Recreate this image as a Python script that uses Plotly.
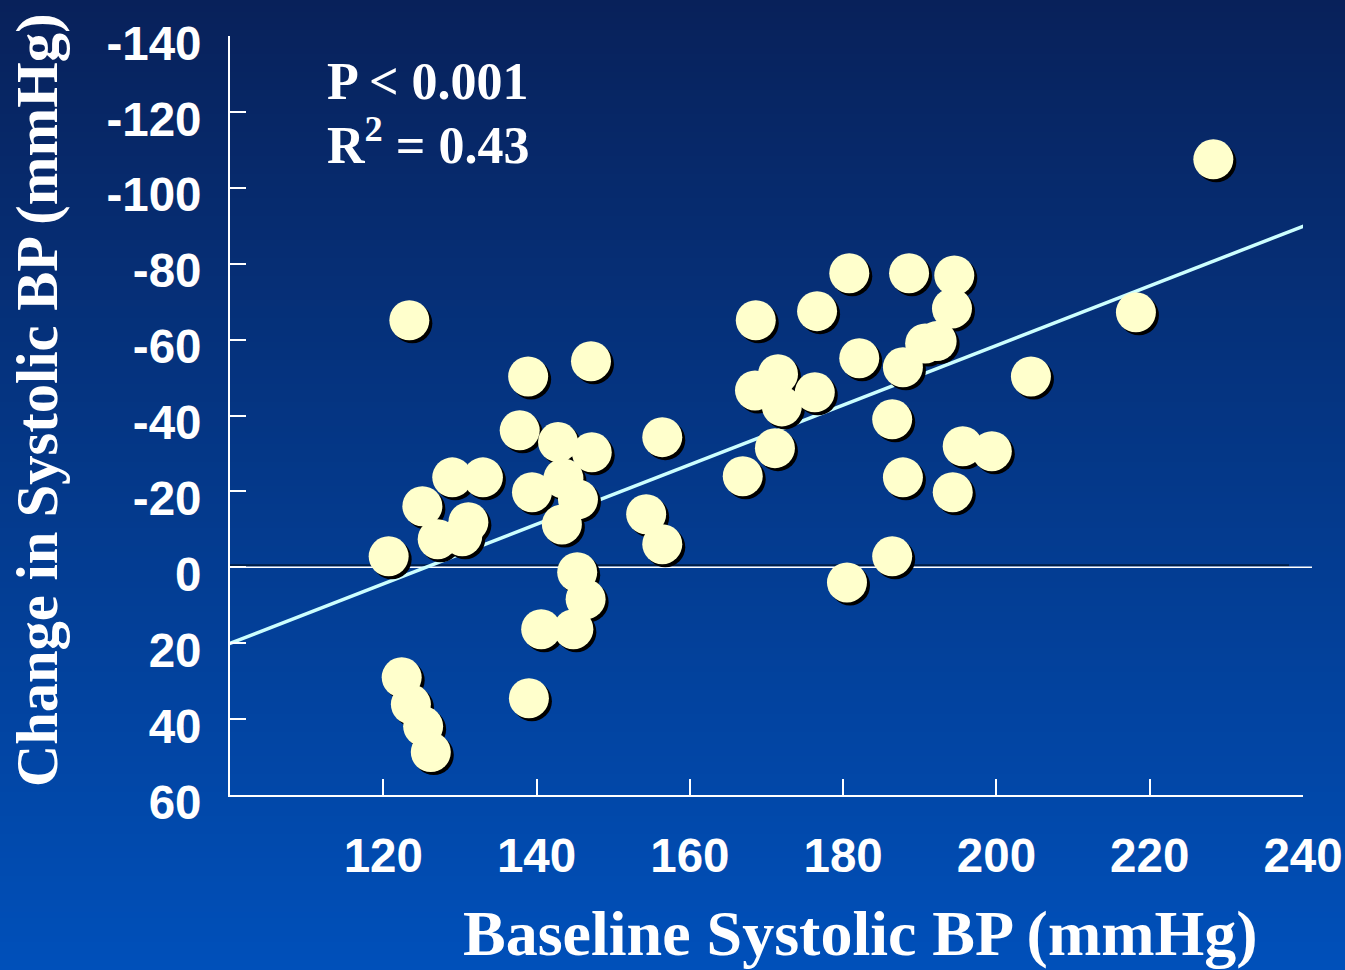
import plotly.graph_objects as go

# ---- data ----
baseline_sbp = [120.7, 123.4, 125.1, 127.1, 129.0, 131.1, 130.3, 133.0,
                122.4, 123.6, 125.2, 126.2, 137.8, 138.9, 139.4, 142.8,
                143.5, 145.4, 143.3, 147.1, 147.2, 145.3, 146.4, 140.6,
                144.8, 139.0, 154.3, 156.4, 156.4, 166.9, 168.6, 168.5,
                171.5, 172.0, 171.1, 176.3, 176.6, 180.8, 182.1, 180.5,
                188.6, 186.4, 187.8, 187.8, 186.4, 190.7, 192.2, 194.5,
                194.2, 195.6, 194.3, 199.4, 204.5, 218.2, 228.3]
change_sbp = [-2.9, -65.1, -16.1, -7.4, -23.7, -11.9, -8.2, -23.7,
              29.0, 36.1, 41.9, 48.7, -36.1, -50.3, -19.8, -33.0,
              -23.4, -17.9, -11.3, -54.3, -30.3, 1.3, 8.4, 16.3,
              16.3, 34.5, -14.0, -34.3, -6.1, -24.0, -65.1, -46.6,
              -50.9, -42.4, -31.4, -46.1, -67.5, -77.5, -55.1, 4.0,
              -77.5, -39.0, -52.7, -23.7, -2.9, -59.0, -59.6, -76.9,
              -68.2, -31.9, -19.8, -30.6, -50.3, -67.2, -107.5]

# regression line as drawn (y = intercept + slope * x)
fit_intercept = 98.55
fit_slope = -0.785
fit_x = [99.74, 240.78]

x_ticks = [120, 140, 160, 180, 200, 220, 240]
y_ticks = [-140, -120, -100, -80, -60, -40, -20, 0, 20, 40, 60]
y_tick_text = ["-140", "-120", "-100", "-80", "-60", "-40", "-20", "0", "20", "40", "60"]

p_text = "P < 0.001"
r2_text = "R<sup>2</sup> = 0.43"
x_title = "Baseline Systolic BP (mmHg)"
y_title = "Change in Systolic BP (mmHg)"

# ---- styling ----
W, H = 1345, 970
ML, MR, MT, MB = 230, 42, 36, 175
PW, PH = W - ML - MR, H - MT - MB
TOP_RGB = (8, 33, 90)
BOT_RGB = (0, 80, 186)
SANS = "Arial, Liberation Sans, sans-serif"
SERIF = "Times New Roman, Liberation Serif, serif"


def px_to_paper_y(py):
    return (MT + PH - py) / PH


def px_to_paper_x(px):
    return (px - ML) / PW


shapes = []
band = 6
for top in range(0, H, band):
    t = (top + band / 2) / H
    c = tuple(round(a + (b - a) * t) for a, b in zip(TOP_RGB, BOT_RGB))
    shapes.append(dict(type="rect", xref="paper", yref="paper",
                       x0=px_to_paper_x(-5), x1=px_to_paper_x(W + 5),
                       y0=px_to_paper_y(top + band + 1), y1=px_to_paper_y(top),
                       fillcolor="rgb(%d,%d,%d)" % c, line=dict(width=0),
                       layer="below"))
# zero reference line with its dark shadow
shapes.append(dict(type="line", xref="paper", yref="y",
                   x0=0, x1=px_to_paper_x(1289), y0=-0.55, y1=-0.55,
                   line=dict(color="rgba(0,25,60,0.9)", width=2), layer="below"))
shapes.append(dict(type="line", xref="paper", yref="y",
                   x0=0, x1=px_to_paper_x(1312), y0=0, y1=0,
                   line=dict(color="white", width=1.6), layer="below"))

fig = go.Figure()

fit_y = [fit_intercept + fit_slope * v for v in fit_x]
fig.add_trace(go.Scatter(x=fit_x, y=fit_y, mode="lines",
                         line=dict(color="#ccffff", width=3.5),
                         hoverinfo="skip", showlegend=False))

# marker shadows (offset a few pixels right/down through the axis scales)
dx = 3 / (PW / 140)
dy = 3 / (PH / 200)
fig.add_trace(go.Scatter(x=[v + dx for v in baseline_sbp],
                         y=[v + dy for v in change_sbp], mode="markers",
                         marker=dict(size=40, color="#000000", line=dict(width=0)),
                         cliponaxis=False, hoverinfo="skip", showlegend=False))
fig.add_trace(go.Scatter(x=baseline_sbp, y=change_sbp, mode="markers",
                         marker=dict(size=40, color="#ffffcc", line=dict(width=0)),
                         cliponaxis=False, showlegend=False))

axis_common = dict(showline=True, linecolor="white", linewidth=2,
                   ticks="inside", ticklen=16, tickwidth=2, tickcolor="white",
                   showgrid=False, zeroline=False, automargin=False,
                   tickfont=dict(family=SANS, size=47.5, color="white", weight="bold"))

fig.update_xaxes(range=[100, 240], tickvals=x_ticks,
                 ticklabelstandoff=18, **axis_common)
fig.update_yaxes(range=[60, -140], tickvals=y_ticks, ticktext=y_tick_text,
                 ticklabelstandoff=17, ticklabelshift=-7, **axis_common)

annotations = [
    dict(text=p_text, xref="paper", yref="paper", x=px_to_paper_x(325),
         y=px_to_paper_y(82), xanchor="left", yanchor="middle", showarrow=False,
         font=dict(family=SERIF, size=52, color="white", weight="bold")),
    dict(text=r2_text, xref="paper", yref="paper", x=px_to_paper_x(325),
         y=px_to_paper_y(141), xanchor="left", yanchor="middle", showarrow=False,
         font=dict(family=SERIF, size=52, color="white", weight="bold")),
    dict(text=x_title, xref="paper", yref="paper", x=px_to_paper_x(860),
         y=px_to_paper_y(933), xanchor="center", yanchor="middle", showarrow=False,
         font=dict(family=SERIF, size=64, color="white", weight="bold")),
    dict(text=y_title, xref="paper", yref="paper", x=px_to_paper_x(37),
         y=px_to_paper_y(400), xanchor="center", yanchor="middle", showarrow=False,
         textangle=-90,
         font=dict(family=SERIF, size=58.5, color="white", weight="bold")),
]

fig.update_layout(width=W, height=H, autosize=False,
                  margin=dict(l=ML, r=MR, t=MT, b=MB, pad=0, autoexpand=False),
                  paper_bgcolor="rgb(0,80,186)", plot_bgcolor="rgba(0,0,0,0)",
                  shapes=shapes, annotations=annotations, showlegend=False)

fig.write_html("out.html",
               config={"displayModeBar": False, "responsive": False},
               default_width="%dpx" % W, default_height="%dpx" % H,
               post_script="document.body.style.margin='0';"
                           "document.body.style.overflow='hidden';"
                           "document.body.style.background='rgb(0,80,186)';")
